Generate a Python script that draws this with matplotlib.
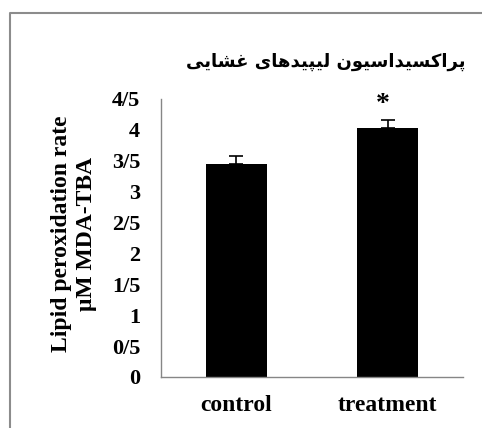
import matplotlib
matplotlib.use("Agg")
import matplotlib.pyplot as plt
from matplotlib.lines import Line2D

categories = ["control", "treatment"]
values = [3.45, 4.03]
errors = [0.13, 0.13]
significance = ["", "*"]
y_ticks = [0, 0.5, 1, 1.5, 2, 2.5, 3, 3.5, 4, 4.5]
y_tick_labels = ["0", "0/5", "1", "1/5", "2", "2/5", "3", "3/5", "4", "4/5"]
title = "پراکسیداسیون لیپیدهای غشایی"
ylabel = "Lipid peroxidation rate\nμM MDA-TBA"

# matplotlib does no arabic shaping, so pick presentation forms by hand
# letter: (isolated, final, initial, medial)
FORMS = {
    "ا": ("\uFE8D", "\uFE8E", None, None),
    "ر": ("\uFEAD", "\uFEAE", None, None),
    "د": ("\uFEA9", "\uFEAA", None, None),
    "و": ("\uFEED", "\uFEEE", None, None),
    "پ": ("\uFB56", "\uFB57", "\uFB58", "\uFB59"),
    "ک": ("\uFB8E", "\uFB8F", "\uFB90", "\uFB91"),
    "س": ("\uFEB1", "\uFEB2", "\uFEB3", "\uFEB4"),
    "ی": ("\uFBFC", "\uFBFD", "\uFBFE", "\uFBFF"),
    "ن": ("\uFEE5", "\uFEE6", "\uFEE7", "\uFEE8"),
    "ل": ("\uFEDD", "\uFEDE", "\uFEDF", "\uFEE0"),
    "ه": ("\uFEE9", "\uFEEA", "\uFEEB", "\uFEEC"),
    "غ": ("\uFECD", "\uFECE", "\uFECF", "\uFED0"),
    "ش": ("\uFEB5", "\uFEB6", "\uFEB7", "\uFEB8"),
}


def shape_rtl(text):
    out = []
    for i, ch in enumerate(text):
        if ch not in FORMS:
            out.append(ch)
            continue
        prev = text[i - 1] if i > 0 else " "
        nxt = text[i + 1] if i + 1 < len(text) else " "
        join_prev = prev in FORMS and FORMS[prev][2] is not None
        join_next = FORMS[ch][2] is not None and nxt in FORMS
        iso, fin, ini, med = FORMS[ch]
        if join_prev and join_next:
            out.append(med)
        elif join_prev:
            out.append(fin)
        elif join_next:
            out.append(ini)
        else:
            out.append(iso)
    return "".join(out)[::-1]


plt.rcParams["font.family"] = ["Liberation Serif", "DejaVu Serif"]
plt.rcParams["font.weight"] = "bold"

fig = plt.figure(figsize=(4.82, 4.28), dpi=100)
ax = fig.add_axes([0.334, 0.1192, 0.6266, 0.6495])

x = range(len(categories))
ax.bar(x, values, width=0.4, color="black",
       yerr=[[0, 0], errors], error_kw=dict(ecolor="black", elinewidth=1.2, capsize=5, capthick=1.2))

for i, (v, e, s) in enumerate(zip(values, errors, significance)):
    if s:
        ax.text(i - 0.03, v + e + 0.25, s, ha="center", va="center", fontsize=20, fontweight="bold")

ax.set_xlim(-0.5, 1.5)
ax.set_ylim(0, 4.5)
ax.set_yticks(y_ticks)
ax.set_yticklabels(y_tick_labels, fontsize=16, fontweight="bold")
ax.set_xticks(list(x))
ax.set_xticklabels(categories, fontsize=17, fontweight="bold")
ax.tick_params(axis="y", length=0, pad=15)
ax.tick_params(axis="x", length=0, pad=13)

for side in ["top", "right"]:
    ax.spines[side].set_visible(False)
for side in ["left", "bottom"]:
    ax.spines[side].set_color("#868686")
    ax.spines[side].set_linewidth(1.0)

fig.text(74 / 482, 1 - 234 / 428, ylabel, rotation=90, ha="center", va="center",
         fontsize=17, fontweight="bold", linespacing=1.3, multialignment="center")

fig.text(326 / 482, 1 - 62 / 428, shape_rtl(title), ha="center", va="center",
         fontsize=13, fontweight="bold", family=["DejaVu Sans"])

# chart-area border, only its left and top edges are in the crop
bx, by = 9.5 / 482, 1 - 13 / 428
fig.add_artist(Line2D([bx, bx, 1.0], [0.0, by, by], transform=fig.transFigure,
                      color="#8c8c8c", linewidth=1.5))

fig.savefig("out.png", dpi=100)
